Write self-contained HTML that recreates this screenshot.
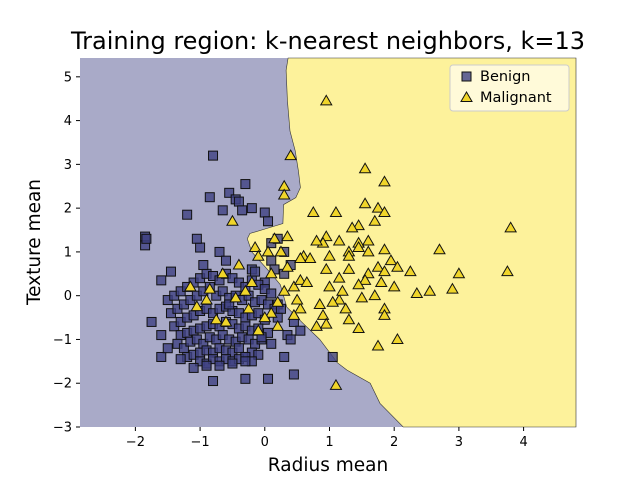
<!DOCTYPE html>
<html><head><meta charset="utf-8"><style>
body{margin:0;background:#fff;font-family:"Liberation Sans","DejaVu Sans",sans-serif}
svg text{font-family:"DejaVu Sans","Liberation Sans",sans-serif}
</style></head><body>
<svg id="chart" width="640" height="480" viewBox="0 0 640 480" xmlns="http://www.w3.org/2000/svg">
<rect width="640" height="480" fill="#fff"/>
<text x="328" y="49" font-size="24" text-anchor="middle">Training region: k-nearest neighbors, k=13</text>
<g id="plot"></g>
<text x="328" y="471" font-size="18.5" text-anchor="middle">Radius mean</text>
<text transform="translate(40,242) rotate(-90)" font-size="18.5" text-anchor="middle">Texture mean</text>
</svg>
<script>
const xTicks=[-2,-1,0,1,2,3,4];
const yTicks=[-3,-2,-1,0,1,2,3,4,5];
const boundaryX=[0.36,0.33,0.35,0.39,0.47,0.52,0.55,0.48,0.29,0.28,0.13,-0.23,-0.27,-0.2,-0.05,0.1,0.24,0.34,0.59,0.85,1.12,1.27,1.63,1.78,2.14];
const boundaryY=[5.43,5.15,4.46,3.76,3.31,2.85,2.47,2.24,2.08,1.65,1.58,1.42,1.3,1.0,0.75,0.5,0.25,-0.26,-0.63,-1.0,-1.53,-1.7,-2.0,-2.46,-3.0];
const benignX=[-0.8,-1.85,-1.85,-1.83,-1.2,-0.85,-0.3,-0.55,-0.45,-0.4,-0.2,-0.65,-0.35,0,0.05,-1.6,-1.45,-1.75,-1.6,-0.8,-0.3,0.05,0.45,1.05,0.3,-1.0,-1.05,-0.7,
0.1,0.2,0.1,0.3,0.15,0.0,0.3,0.4,0.2,0.45,0.35,0.55,0.4,
-1.5,-1.4,-1.3,-1.2,-1.1,-1.0,-0.9,-0.8,-0.7,-0.6,-0.5,-0.4,-0.3,-0.2,-0.1,0.0,0.1,
-1.45,-1.35,-1.25,-1.15,-1.05,-0.95,-0.85,-0.75,-0.65,-0.55,-0.45,-0.35,-0.25,-0.15,-0.05,0.05,0.15,
-1.4,-1.3,-1.2,-1.1,-1.0,-0.9,-0.8,-0.7,-0.6,-0.5,-0.4,-0.3,-0.2,-0.1,0.0,0.2,
-1.3,-1.2,-1.1,-1.0,-0.9,-0.8,-0.7,-0.6,-0.5,-0.4,-0.3,-0.2,-0.1,0.05,
-1.35,-1.25,-1.15,-1.05,-0.95,-0.85,-0.75,-0.65,-0.55,-0.45,-0.35,-0.25,-0.15,-0.05,0.1,
-1.2,-1.1,-1.0,-0.9,-0.8,-0.7,-0.6,-0.5,-0.4,-0.3,-0.2,-0.1,
-1.0,-0.9,-0.8,-0.7,-0.6,-0.5,-0.4,-0.3,-0.2,-0.9,-0.7,-0.5,-0.3,-1.1,-1.5,-1.6,-1.3,-0.6,-0.2,0.25,-0.05,-0.95,-0.55,-0.15];
const benignY=[3.2,1.35,1.15,1.3,1.85,2.25,2.55,2.35,2.2,2.15,2.0,1.95,1.95,1.9,1.7,0.35,0.55,-0.6,-1.4,-1.95,-1.9,-1.9,-1.8,-1.4,-1.4,1.1,1.3,1.0,
1.2,1.3,0.8,1.0,0.6,0.3,0.5,0.7,-0.2,-0.6,-0.9,-0.8,-1.0,
-0.1,0.0,0.1,0.2,0.3,0.4,0.5,0.45,0.35,0.5,0.4,0.3,0.2,0.35,0.25,0.15,0.05,
-0.4,-0.3,-0.2,-0.1,0.0,0.1,0.2,0.0,0.1,-0.05,0.0,-0.1,0.0,-0.15,-0.1,-0.2,-0.3,
-0.7,-0.6,-0.5,-0.45,-0.35,-0.3,-0.4,-0.3,-0.25,-0.35,-0.4,-0.5,-0.45,-0.4,-0.55,-0.5,
-0.9,-0.85,-0.8,-0.75,-0.7,-0.65,-0.7,-0.6,-0.65,-0.75,-0.7,-0.8,-0.75,-0.85,
-1.1,-1.2,-1.05,-1.0,-1.1,-0.95,-1.0,-0.9,-1.0,-1.05,-0.95,-1.0,-1.1,-1.0,-1.1,
-1.4,-1.35,-1.3,-1.25,-1.3,-1.2,-1.25,-1.3,-1.2,-1.4,-1.3,-1.35,
-1.5,-1.55,-1.45,-1.5,-1.45,-1.5,-1.45,-1.4,-1.5,-1.6,-1.6,-1.55,-1.5,-1.65,-1.2,-0.9,-1.45,0.8,0.6,-0.3,-0.95,0.7,-0.2,0.55];
const malX=[0.95,0.4,1.55,0.3,0.3,1.85,1.55,1.75,1.85,1.7,1.45,1.1,0.75,1.35,1.45,0.95,0.9,1.0,0.6,0.7,1.3,1.45,1.6,1.85,1.95,2.05,2.25,2.7,3.8,3.75,3.0,2.9,2.55,2.35,2.0,1.8,1.6,1.3,1.15,1.0,0.85,0.9,0.8,0.95,1.3,1.45,1.15,1.25,1.5,1.7,1.85,1.85,2.05,1.75,1.1,0.55,0.45,0.55,0.35,0.25,0.15,0.1,0.3,0.5,0.2,0.1,-0.2,-0.3,-0.6,-0.1,-0.5,-0.9,-1.15,-1.05,-0.75,-0.85,-0.65,-0.4,-0.15,-0.1,0.05,0.35,0.55,0.2,0.0,-0.25,-0.45,0.8,1.15,1.3,1.6,1.75,1.55,1.2,1.45,1.85,0.65,0.45,0.95,1.05];
const malY=[4.45,3.2,2.9,2.5,2.3,2.6,2.1,2.0,1.9,1.7,1.6,1.9,1.9,1.55,1.2,1.35,1.2,0.9,0.9,0.85,1.0,1.1,1.0,1.05,0.8,0.65,0.55,1.05,1.55,0.55,0.5,0.15,0.1,0.05,0.2,0.3,0.5,0.6,0.4,0.2,-0.2,-0.45,-0.7,-0.65,-0.55,-0.75,-0.1,-0.3,-0.05,0.0,-0.3,-0.45,-1.0,-1.15,-2.05,-0.3,0.2,0.35,0.65,1.0,1.3,0.5,0.1,-0.1,-0.7,-0.4,0.3,0.1,-0.6,-0.8,1.7,-0.1,0.2,-0.25,-0.55,0.15,0.5,0.7,1.1,0.9,1.0,1.35,0.85,-0.15,-0.5,-0.3,-0.05,1.25,1.25,0.9,1.25,0.65,0.35,0.1,0.25,0.55,0.3,-0.45,0.6,-0.15];

const X0=80,X1=576,Y0=58,Y1=427,xmin=-2.856,xmax=4.81,ymin=-3,ymax=5.43;
const sx=v=>X0+(v-xmin)/(xmax-xmin)*(X1-X0);
const sy=v=>Y1-(v-ymin)/(ymax-ymin)*(Y1-Y0);
const NS="http://www.w3.org/2000/svg";
const g=document.getElementById('plot');
function mk(t,a){const e=document.createElementNS(NS,t);for(const k in a)e.setAttribute(k,a[k]);return e;}

const bg=mk('rect',{x:X0,y:Y0,width:X1-X0,height:Y1-Y0,fill:'#a9aac8'});


g.appendChild(bg);
let d='M'+X1+','+Y0;
for(let i=0;i<boundaryX.length;i++)d+=' L'+sx(boundaryX[i]).toFixed(1)+','+sy(boundaryY[i]).toFixed(1);
d+=' L'+X1+','+Y1+' Z';
const yr=mk('path',{d:d,fill:'#fdf29b',stroke:'#333',"stroke-width":0.6});


g.appendChild(yr);

for(let i=0;i<benignX.length;i++){
 const s=mk('rect',{x:sx(benignX[i])-4.5,y:sy(benignY[i])-4.5,width:9,height:9,fill:'#3f4182','fill-opacity':0.8,stroke:'#111','stroke-width':1});
 
 
 g.appendChild(s);
}
for(let i=0;i<malX.length;i++){
 const cx=sx(malX[i]),cy=sy(malY[i]);
 const t=mk('polygon',{points:`${cx},${cy-5.5} ${cx-5.5},${cy+4} ${cx+5.5},${cy+4}`,fill:'#f0d52a',stroke:'#111','stroke-width':1});
 
 
 g.appendChild(t);
}
for(const v of xTicks){
 const x=sx(v);
 g.appendChild(mk('line',{x1:x,x2:x,y1:Y1,y2:Y1+4,stroke:'#000'}));
 const t=mk('text',{x:x,y:Y1+19,'font-size':13,'text-anchor':'middle'});t.textContent=v<0?'\u2212'+(-v):v;
 
 
 g.appendChild(t);
}
for(const v of yTicks){
 const y=sy(v);
 g.appendChild(mk('line',{x1:X0-4,x2:X0,y1:y,y2:y,stroke:'#000'}));
 const t=mk('text',{x:X0-8,y:y+4.5,'font-size':13,'text-anchor':'end'});t.textContent=v<0?'\u2212'+(-v):v;
 
 
 g.appendChild(t);
}
const lg=mk('g',{});


lg.appendChild(mk('rect',{x:450,y:65,width:119,height:46,rx:3,fill:'#fffbe0','fill-opacity':0.9,stroke:'#ccc'}));
lg.appendChild(mk('rect',{x:462,y:72,width:9,height:9,fill:'#3f4182','fill-opacity':0.8,stroke:'#111'}));
lg.appendChild(mk('polygon',{points:'466.5,92 461,101.5 472,101.5',fill:'#f0d52a',stroke:'#111'}));
const l1=mk('text',{x:480,y:81,'font-size':14.5});l1.textContent='Benign';


const l2=mk('text',{x:480,y:102,'font-size':14.5});l2.textContent='Malignant';


lg.appendChild(l1);lg.appendChild(l2);
g.appendChild(lg);
</script>
</body></html>
